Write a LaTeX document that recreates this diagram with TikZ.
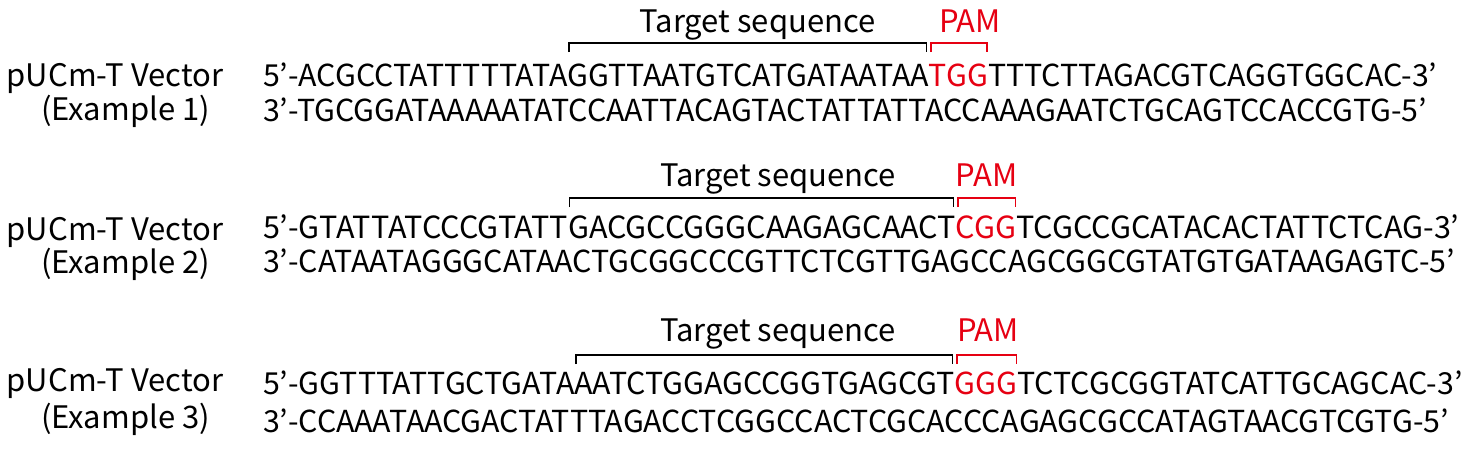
\documentclass[tikz,border=0pt]{standalone}
\usepackage{fontspec}
\setmainfont{Noto Sans CJK JP}
\definecolor{pamred}{RGB}{230,0,18}
\begin{document}
\begin{tikzpicture}[x=1pt,y=-1pt,
  seq/.style={inner sep=0pt, outer sep=0pt, font=\fontsize{30.3}{34}\selectfont, anchor=base west},
  seqb/.style={seq, font=\fontsize{30.5}{34}\selectfont},
  lbl/.style={inner sep=0pt, outer sep=0pt, font=\fontsize{31}{34}\selectfont, anchor=base},
  pamtxt/.style={lbl, text=pamred},
  brk/.style={line width=1.6pt, line join=miter},
  pambrk/.style={brk, draw=pamred}]
\useasboundingbox (0,0) rectangle (1479,451);
% ---------- Example 1
\node[lbl] (v1) at (115,86) {pUCm-T Vector};
\node[lbl] (e1) at (125.5,120) {(Example 1)};
\node[seq] (a1) at (263,86) {5’-ACGCCTATTTTTATA};
\node[seq] (t1) at (a1.base east) {GGTTAATGTCATGATAATAA};
\node[seq, text=pamred] (m1) at (t1.base east) {TGG};
\node[seq] (z1) at (m1.base east) {TTTCTTAGACGTCAGGTGGCAC-3’};
\node[seq] (b1) at (263,121) {3’-TGCGGATAAAAATATCCAATTACAGTACTATTATTACCAAAGAATCTGCAGTCCACCGTG-5’};
\node[lbl] (ts1) at (757.5,32) {Target sequence};
\node[pamtxt] (pt1) at (970,32) {PAM};
\draw[brk] ([shift={(1.5pt,34pt)}]t1.base west) -- ([shift={(1.5pt,43pt)}]t1.base west) -- ([shift={(-2.5pt,43pt)}]t1.base east) -- ([shift={(-2.5pt,34pt)}]t1.base east);
\draw[pambrk] ([shift={(2pt,34pt)}]m1.base west) -- ([shift={(2pt,43pt)}]m1.base west) -- ([shift={(-1pt,43pt)}]m1.base east) -- ([shift={(-1pt,34pt)}]m1.base east);
% ---------- Example 2
\node[lbl] (v2) at (115,240) {pUCm-T Vector};
\node[lbl] (e2) at (125.5,273) {(Example 2)};
\node[seqb] (a2) at (263,238) {5’-GTATTATCCCGTATT};
\node[seqb] (t2) at (a2.base east) {GACGCCGGGCAAGAGCAACT};
\node[seqb, text=pamred] (m2) at (t2.base east) {CGG};
\node[seqb] (z2) at (m2.base east) {TCGCCGCATACACTATTCTCAG-3’};
\node[seq] (b2) at (263,272) {3’-CATAATAGGGCATAACTGCGGCCCGTTCTCGTTGAGCCAGCGGCGTATGTGATAAGAGTC-5’};
\node[lbl] (ts2) at (778,186) {Target sequence};
\node[pamtxt] (pt2) at (986.5,186) {PAM};
\draw[brk] ([shift={(1.5pt,31pt)}]t2.base west) -- ([shift={(1.5pt,40pt)}]t2.base west) -- ([shift={(-2.5pt,40pt)}]t2.base east) -- ([shift={(-2.5pt,31pt)}]t2.base east);
\draw[pambrk] ([shift={(2pt,31pt)}]m2.base west) -- ([shift={(2pt,40pt)}]m2.base west) -- ([shift={(-1pt,40pt)}]m2.base east) -- ([shift={(-1pt,31pt)}]m2.base east);
% ---------- Example 3
\node[lbl] (v3) at (115,391) {pUCm-T Vector};
\node[lbl] (e3) at (125.5,428) {(Example 3)};
\node[seq] (a3) at (263,394) {5’-GGTTTATTGCTGATA};
\node[seq] (t3) at (a3.base east) {AATCTGGAGCCGGTGAGCGT};
\node[seq, text=pamred] (m3) at (t3.base east) {GGG};
\node[seq] (z3) at (m3.base east) {TCTCGCGGTATCATTGCAGCAC-3’};
\node[seq] (b3) at (263,432) {3’-CCAAATAACGACTATTTAGACCTCGGCCACTCGCACCCAGAGCGCCATAGTAACGTCGTG-5’};
\node[lbl] (ts3) at (778,341) {Target sequence};
\node[pamtxt] (pt3) at (988,341) {PAM};
\draw[brk] ([shift={(1.5pt,30pt)}]t3.base west) -- ([shift={(1.5pt,39pt)}]t3.base west) -- ([shift={(-2.5pt,39pt)}]t3.base east) -- ([shift={(-2.5pt,30pt)}]t3.base east);
\draw[pambrk] ([shift={(2pt,30pt)}]m3.base west) -- ([shift={(2pt,39pt)}]m3.base west) -- ([shift={(-1pt,39pt)}]m3.base east) -- ([shift={(-1pt,30pt)}]m3.base east);
\end{tikzpicture}
\end{document}
